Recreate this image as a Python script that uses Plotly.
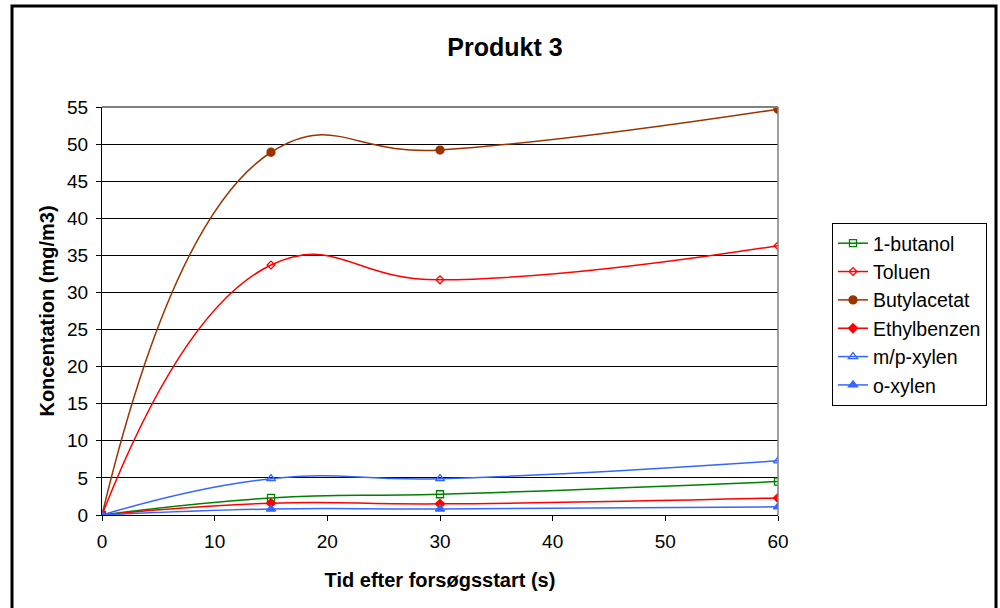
import plotly.graph_objects as go

x_time = [0, 15, 30, 60]
series_names = ["1-butanol", "Toluen", "Butylacetat", "Ethylbenzen", "m/p-xylen", "o-xylen"]
butanol = [0, 2.3, 2.8, 4.5]
toluen = [0, 33.7, 31.7, 36.3]
butylacetat = [0, 48.9, 49.2, 54.7]
ethylbenzen = [0, 1.6, 1.5, 2.3]
mp_xylen = [0, 4.9, 4.9, 7.3]
o_xylen = [0, 0.8, 0.8, 1.1]

values = [butanol, toluen, butylacetat, ethylbenzen, mp_xylen, o_xylen]
colors = ["#008000", "#FF0000", "#993300", "#FF0000", "#3366FF", "#3366FF"]
symbols = ["square-open", "diamond-open", "circle", "diamond", "triangle-up-open", "triangle-up"]
sizes = [7, 6, 8, 7, 8, 8]

FONT = "Arial, Liberation Sans, sans-serif"

fig = go.Figure()
for name, vals, c, s, sz in zip(series_names, values, colors, symbols, sizes):
    fig.add_trace(go.Scatter(
        x=x_time, y=vals, name=name, mode="lines+markers",
        line=dict(color=c, width=1.5, shape="spline", smoothing=1.3),
        marker=dict(symbol=s, size=sz, color=c, line=dict(color=c, width=1.3)),
    ))

L, R, T, B = 102, 778, 107, 515
W, H = 1000, 608

def px(xp):
    return (xp - L) / (R - L)

def py(yp):
    return (B - yp) / (B - T)

fig.update_layout(
    width=W, height=H,
    margin=dict(l=L, r=W - R, t=T, b=H - B, autoexpand=False),
    paper_bgcolor="white", plot_bgcolor="white",
    font=dict(family=FONT, size=19, color="black"),
    title=dict(text="<b>Produkt 3</b>", x=505 / W, xanchor="center",
               y=1 - 47 / H, yanchor="middle", font=dict(size=25, family=FONT)),
    xaxis=dict(range=[0, 60], tickvals=[0, 10, 20, 30, 40, 50, 60], showgrid=False,
               zeroline=False, showline=True, linecolor="black", linewidth=1,
               ticks="outside", ticklen=5, tickcolor="black", ticklabelstandoff=4,
               title=dict(text="<b>Tid efter forsøgsstart (s)</b>", font=dict(size=20), standoff=22),
               tickfont=dict(size=19)),
    yaxis=dict(range=[0, 55], tickvals=list(range(0, 56, 5)), showgrid=True,
               gridcolor="black", gridwidth=1, zeroline=False, showline=True,
               linecolor="black", linewidth=1, ticks="outside", ticklen=5, tickcolor="black",
               ticklabelstandoff=4,
               title=dict(text="<b>Koncentation (mg/m3)</b>", font=dict(size=20), standoff=7),
               tickfont=dict(size=19)),
    legend=dict(x=px(832), y=py(223), xanchor="left", yanchor="top",
                bordercolor="black", borderwidth=1, bgcolor="white",
                font=dict(size=19.5), tracegroupgap=0),
    showlegend=True,
)

# plot area border (top & right, gray)
fig.add_shape(type="line", xref="paper", yref="paper", x0=0, x1=1, y0=1, y1=1,
              line=dict(color="#808080", width=2))
fig.add_shape(type="line", xref="paper", yref="paper", x0=1, x1=1, y0=0, y1=1,
              line=dict(color="#808080", width=1.5))
# outer chart border
fig.add_shape(type="rect", xref="paper", yref="paper",
              x0=px(12), x1=px(996), y0=py(620), y1=py(6),
              line=dict(color="black", width=3), fillcolor="rgba(0,0,0,0)")

fig.write_html("out.html")
